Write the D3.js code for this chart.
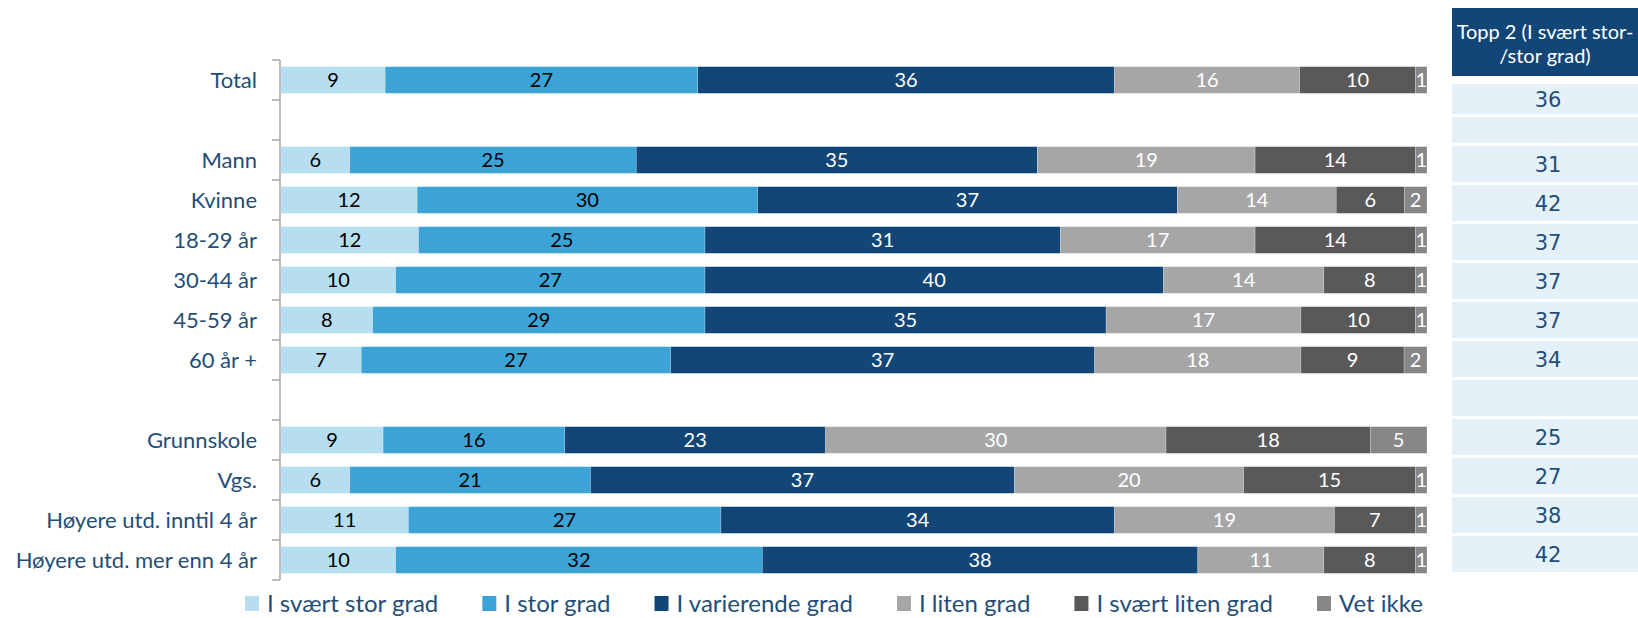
<!DOCTYPE html>
<html lang="no">
<head>
<meta charset="utf-8">
<title>Topp 2</title>
<script src="https://cdn.jsdelivr.net/npm/d3@7"></script>
<style>
  body { margin: 0; background: #fff; }
  svg { display: block; }
</style>
</head>
<body>
<svg></svg>
<script>
// data
var categories = ["Total", "", "Mann", "Kvinne", "18-29 år", "30-44 år", "45-59 år", "60 år +", " ",
                  "Grunnskole", "Vgs.", "Høyere utd. inntil 4 år", "Høyere utd. mer enn 4 år"];
var seriesNames = ["I svært stor grad", "I stor grad", "I varierende grad", "I liten grad", "I svært liten grad", "Vet ikke"];
var seriesColors = ["#b6ddf0", "#3ba3d5", "#124677", "#a6a6a6", "#595959", "#878787"];
var labelColors = ["#000", "#000", "#fff", "#fff", "#fff", "#fff"];

var sSvaertStor   = [9, null, 6, 12, 12, 10, 8, 7, null, 9, 6, 11, 10];
var sStor         = [27, null, 25, 30, 25, 27, 29, 27, null, 16, 21, 27, 32];
var sVarierende   = [36, null, 35, 37, 31, 40, 35, 37, null, 23, 37, 34, 38];
var sLiten        = [16, null, 19, 14, 17, 14, 17, 18, null, 30, 20, 19, 11];
var sSvaertLiten  = [10, null, 14, 6, 14, 8, 10, 9, null, 18, 15, 7, 8];
var sVetIkke      = [1, null, 1, 2, 1, 1, 1, 2, null, 5, 1, 1, 1];
var topp2         = [36, null, 31, 42, 37, 37, 37, 34, null, 25, 27, 38, 42];
var topp2Header   = ["Topp 2 (I svært stor-", "/stor grad)"];

var allSeries = [sSvaertStor, sStor, sVarierende, sLiten, sSvaertLiten, sVetIkke];

var W = 1638, H = 618;
var svg = d3.select("svg").attr("width", W).attr("height", H);

var FONT = "Lato, 'Open Sans', sans-serif";
var TEXTBLUE = "#1f4e79";

// scales
var x = d3.scaleLinear().domain([0, 1]).range([281, 1427]);
var y = d3.scaleBand().domain(categories).range([60, 580]).paddingInner(1/3).paddingOuter(1/6);

// build stacked segments, each row normalised to its total
var segs = [];
categories.forEach(function(c, i) {
  if (allSeries[0][i] == null) return;
  var tot = d3.sum(allSeries, function(s) { return s[i]; });
  var acc = 0;
  allSeries.forEach(function(s, k) {
    segs.push({cat: c, k: k, v: s[i], x0: acc / tot, x1: (acc + s[i]) / tot});
    acc += s[i];
  });
});

svg.append("defs").append("clipPath").attr("id", "plotclip")
  .append("rect").attr("x", 0).attr("y", 0).attr("width", x.range()[1]).attr("height", H);

svg.append("g").selectAll("rect")
  .data(segs).enter().append("rect")
  .attr("x", function(d) { return x(d.x0); })
  .attr("width", function(d) { return x(d.x1) - x(d.x0); })
  .attr("y", function(d) { return y(d.cat); })
  .attr("height", y.bandwidth())
  .attr("fill", function(d) { return seriesColors[d.k]; })
  .attr("stroke", "#fff").attr("stroke-opacity", 0.35).attr("stroke-width", 0.6);

svg.append("g").attr("clip-path", "url(#plotclip)").selectAll("text")
  .data(segs).enter().append("text")
  .attr("x", function(d) { return (x(d.x0) + x(d.x1)) / 2; })
  .attr("y", function(d) { return y(d.cat) + y.bandwidth() / 2; })
  .attr("dy", "0.36em")
  .attr("text-anchor", "middle")
  .attr("font-family", FONT).attr("font-size", 20)
  .attr("fill", function(d) { return labelColors[d.k]; })
  .text(function(d) { return d.v; });

// y axis with ticks on band boundaries
var ax = x.range()[0] - 1;
var bounds = categories.map(function(c) { return y(c) - y.step() * y.paddingInner() / 2; });
bounds.push(y.range()[1]);
var axisG = svg.append("g").attr("stroke", "#a6a6a6").attr("stroke-width", 1.5);
axisG.append("line").attr("x1", ax).attr("x2", ax).attr("y1", bounds[0]).attr("y2", bounds[bounds.length - 1]);
axisG.selectAll("line.tick").data(bounds).enter().append("line").attr("class", "tick")
  .attr("x1", ax - 8).attr("x2", ax).attr("y1", function(d) { return d; }).attr("y2", function(d) { return d; });

svg.append("g").selectAll("text")
  .data(categories).enter().append("text")
  .attr("x", 257)
  .attr("y", function(d) { return y(d) + y.bandwidth() / 2; })
  .attr("dy", "0.36em")
  .attr("text-anchor", "end")
  .attr("font-family", FONT).attr("font-size", 22)
  .attr("fill", TEXTBLUE)
  .text(function(d) { return d.trim(); });

// legend
var lg = svg.append("g").attr("transform", "translate(245,596)");
var lx = 0;
seriesNames.forEach(function(n, k) {
  var item = lg.append("g").attr("transform", "translate(" + lx + ",0)");
  item.append("rect").attr("width", 14).attr("height", 15).attr("fill", seriesColors[k]);
  var t = item.append("text").attr("x", 22).attr("y", 7.5).attr("dy", "0.36em")
    .attr("font-family", FONT).attr("font-size", 24).attr("fill", TEXTBLUE).text(n);
  lx += 22 + t.node().getComputedTextLength() + 44;
});

// Topp 2 table
var tx0 = 1452, tx1 = W;
var tRow = d3.scaleBand().domain(categories).range([68, 575]);
var head = svg.append("g");
head.append("rect").attr("x", tx0).attr("y", 8).attr("width", tx1 - tx0).attr("height", 68).attr("fill", "#124677");
head.selectAll("text").data(topp2Header).enter().append("text")
  .attr("x", (tx0 + tx1) / 2).attr("y", function(d, i) { return 39 + i * 24; })
  .attr("text-anchor", "middle").attr("font-family", FONT).attr("font-size", 20).attr("fill", "#fff")
  .text(function(d) { return d; });

function cellY(i) {
  if (i === 0) return 84;
  if (i === 1) return tRow(categories[2]) - 29;
  return tRow(categories[i]);
}
function cellH(i) {
  if (i === 0) return 30;
  if (i === 1) return 26;
  return tRow.bandwidth() - 3;
}
var cells = svg.append("g").selectAll("g").data(topp2).enter().append("g");
cells.append("rect")
  .attr("x", tx0).attr("width", tx1 - tx0)
  .attr("y", function(d, i) { return cellY(i); })
  .attr("height", function(d, i) { return cellH(i); })
  .attr("fill", "#e4f1f9");
cells.append("text")
  .attr("x", (tx0 + tx1) / 2 + 3)
  .attr("y", function(d, i) { return cellY(i) + cellH(i) / 2; })
  .attr("dy", "0.36em")
  .attr("text-anchor", "middle")
  .attr("font-family", "'DejaVu Sans', Verdana, sans-serif").attr("font-size", 21)
  .attr("fill", TEXTBLUE)
  .text(function(d) { return d == null ? "" : d; });
</script>
</body>
</html>
